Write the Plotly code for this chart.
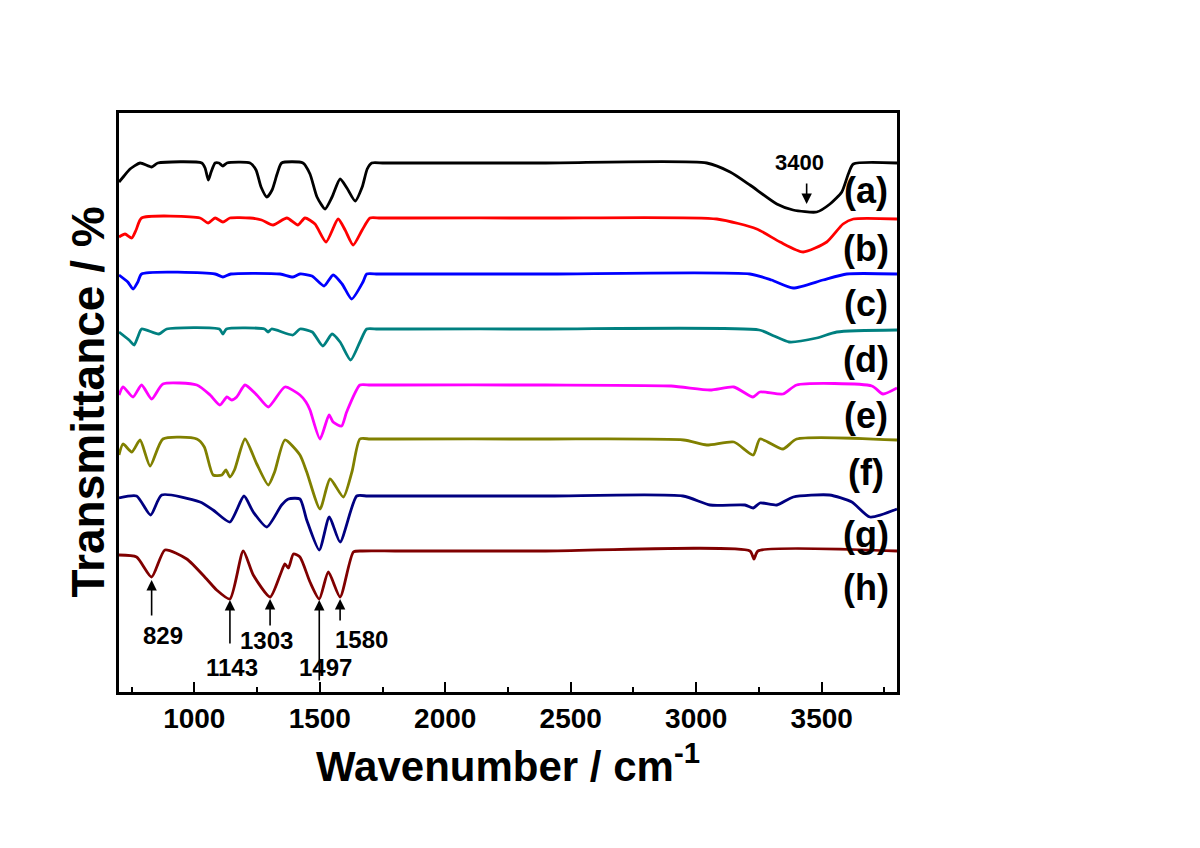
import plotly.graph_objects as go

# ---- data (wavenumber / cm-1, transmittance in arbitrary offset units) ----
wn_a = [700,720,744,784,830,855,1030,1043,1056,1067,1083,1098,1114,1130,1222,1246,1266,1289,1310,1330,1348,1433,1461,1489,1521,1549,1581,1608,1641,1669,1689,1707,1750,1850,2400,3042,3135,3214,3321,3386,3480,3533,3580,3606,3626,3800]
t_a = [510,516,523,529,525,529,529,524,512,520,529,529,526,529,529,522,505,495,502,518,529,529,518,495,483,495,513,504,491,505,523,529,529,529,529,529,520,507,488,482,480,488,500,518,528,529]

wn_b = [700,724,751,768,790,1023,1055,1083,1114,1142,1222,1268,1314,1369,1413,1441,1481,1525,1573,1601,1633,1669,1700,1740,1850,2400,3082,3241,3334,3426,3520,3585,3626,3800]
t_b = [455,458,454,462,474,474,469,474,470,474,474,472,467,474,467,474,468,450,473,462,447,462,474,474,474,474,473,463,450,440,450,468,473,473]

wn_c = [700,735,756,775,790,1083,1114,1146,1342,1393,1421,1469,1517,1553,1589,1627,1672,1687,1730,1850,2400,3214,3300,3386,3505,3600,3800]
t_c = [417,410,403,410,418,418,415,418,418,415,418,416,406,417,408,393,410,418,418,418,418,418,412,404,412,418,418]

wn_d = [700,740,760,775,790,859,890,1100,1114,1128,1280,1294,1308,1393,1421,1470,1512,1549,1581,1623,1660,1687,1730,1850,2400,3251,3310,3370,3480,3560,3800]
t_d = [360,352,347,355,363,358,363,363,358,363,363,360,363,357,363,360,346,358,350,332,350,363,363,363,363,362,356,350,354,360,362]

wn_e = [700,716,756,790,830,875,1010,1063,1102,1130,1149,1169,1202,1249,1295,1361,1421,1445,1461,1501,1537,1553,1587,1607,1660,1700,1800,2400,2900,3055,3150,3226,3254,3346,3400,3700,3744,3800]
t_e = [297,305,295,307,293,308,307,297,287,295,292,295,307,297,285,305,297,290,282,253,277,270,266,280,307,307,307,307,306,302,305,295,300,298,307,306,298,304]

wn_f = [700,716,751,784,824,875,1010,1040,1075,1110,1126,1142,1160,1202,1249,1295,1320,1361,1421,1448,1501,1541,1594,1628,1660,1700,1800,2400,2950,3042,3150,3227,3254,3346,3400,3800]
t_f = [237,248,240,252,226,253,253,245,217,217,222,215,222,253,228,207,220,252,237,220,183,213,195,220,253,253,253,253,252,247,250,237,253,243,253,252]

wn_g = [700,770,826,870,1023,1075,1142,1198,1235,1289,1348,1375,1421,1448,1498,1538,1581,1647,1690,1800,2400,2947,3055,3194,3227,3254,3321,3387,3530,3620,3692,3800]
t_g = [194,196,177,197,190,182,170,196,180,165,187,193,193,172,142,175,150,196,196,196,196,196,187,187,184,189,187,195,197,190,175,183]

wn_h = [700,770,830,883,970,1049,1089,1142,1195,1235,1302,1342,1361,1375,1395,1421,1461,1498,1534,1581,1634,1670,1800,2400,3214,3230,3246,3800]
t_h = [137,135,115,142,133,113,102,93,141,117,95,117,128,124,138,135,110,93,120,95,140,141,141,141,141,133,141,141]

series_names = ["(a)", "(b)", "(c)", "(d)", "(e)", "(f)", "(g)", "(h)"]
series_x = [wn_a, wn_b, wn_c, wn_d, wn_e, wn_f, wn_g, wn_h]
series_y = [t_a, t_b, t_c, t_d, t_e, t_f, t_g, t_h]
colors = ["#000000", "#ff0000", "#0000ff", "#008080", "#ff00ff", "#808000", "#000080", "#800000"]

label_x = 3677
label_y = [502, 444, 389, 333, 277, 220, 158, 105]

# peak marker annotations: (text, wavenumber, arrow head y, arrow tail y, label x, label y)
peak_text = ["829", "1143", "1303", "1497", "1580"]
peak_wn = [830, 1142, 1302, 1498, 1581]
peak_head = [112, 92, 93, 92, 93]
peak_tail = [75, 47, 65, 10, 70]
peak_lx = [875, 1150, 1286, 1521, 1668]
peak_ly = [57, 25, 52, 25, 53]

FONT = "Arial, Liberation Sans, sans-serif"

fig = go.Figure()
for name, xs, ys, c in zip(series_names, series_x, series_y, colors):
    fig.add_trace(go.Scatter(x=xs, y=ys, mode="lines", name=name,
                             line=dict(color=c, width=2.8, shape="spline", smoothing=0.6),
                             showlegend=False))

ann = []
for name, ly in zip(series_names, label_y):
    ann.append(dict(x=label_x, y=ly, xref="x", yref="y", text=name, showarrow=False,
                    font=dict(family=FONT, size=36, color="black", weight="bold"),
                    xanchor="center", yanchor="middle"))

for t, w, hy, ty, lx, ly in zip(peak_text, peak_wn, peak_head, peak_tail, peak_lx, peak_ly):
    ann.append(dict(x=w, y=hy, ax=w, ay=ty, xref="x", yref="y", axref="x", ayref="y",
                    text="", showarrow=True, arrowhead=2, arrowsize=1.3, arrowwidth=1.6,
                    arrowcolor="black", standoff=0))
    ann.append(dict(x=lx, y=ly, xref="x", yref="y", text=t, showarrow=False,
                    font=dict(family=FONT, size=24, color="black", weight="bold"),
                    xanchor="center", yanchor="middle"))

# 3400 band
ann.append(dict(x=3440, y=488, ax=3440, ay=510, xref="x", yref="y", axref="x", ayref="y",
                text="", showarrow=True, arrowhead=2, arrowsize=1.3, arrowwidth=1.6,
                arrowcolor="black", standoff=0))
ann.append(dict(x=3413, y=530, xref="x", yref="y", text="3400", showarrow=False,
                font=dict(family=FONT, size=22, color="black", weight="bold"),
                xanchor="center", yanchor="middle"))

# axis titles
ann.append(dict(x=0.5, y=-(763 - 692) / 579, xref="paper", yref="paper",
                text="Wavenumber / cm<sup>-1</sup>", showarrow=False,
                font=dict(family=FONT, size=42, color="black", weight="bold"),
                xanchor="center", yanchor="middle"))
ann.append(dict(x=(87 - 119) / 778, y=0.5, xref="paper", yref="paper",
                text="Transmittance / %", showarrow=False, textangle=-90,
                font=dict(family=FONT, size=46, color="black", weight="bold"),
                xanchor="center", yanchor="middle"))

fig.update_layout(
    width=1200, height=848,
    margin=dict(l=111, r=311, t=105, b=164),
    paper_bgcolor="white", plot_bgcolor="white",
    annotations=ann,
    xaxis=dict(range=[700, 3800], showgrid=False, zeroline=False,
               showline=True, linecolor="black", linewidth=2.5, mirror=True,
               ticks="inside", ticklen=10, tickwidth=2, tickcolor="black",
               tick0=0, dtick=500,
               minor=dict(ticks="inside", ticklen=5, tickwidth=2, tickcolor="black", dtick=250, tick0=0),
               tickfont=dict(family=FONT, size=28, color="black", weight="bold")),
    yaxis=dict(range=[0, 579], showgrid=False, zeroline=False,
               showline=True, linecolor="black", linewidth=2.5, mirror=True,
               ticks="", showticklabels=False),
)

fig.write_html("out.html")
